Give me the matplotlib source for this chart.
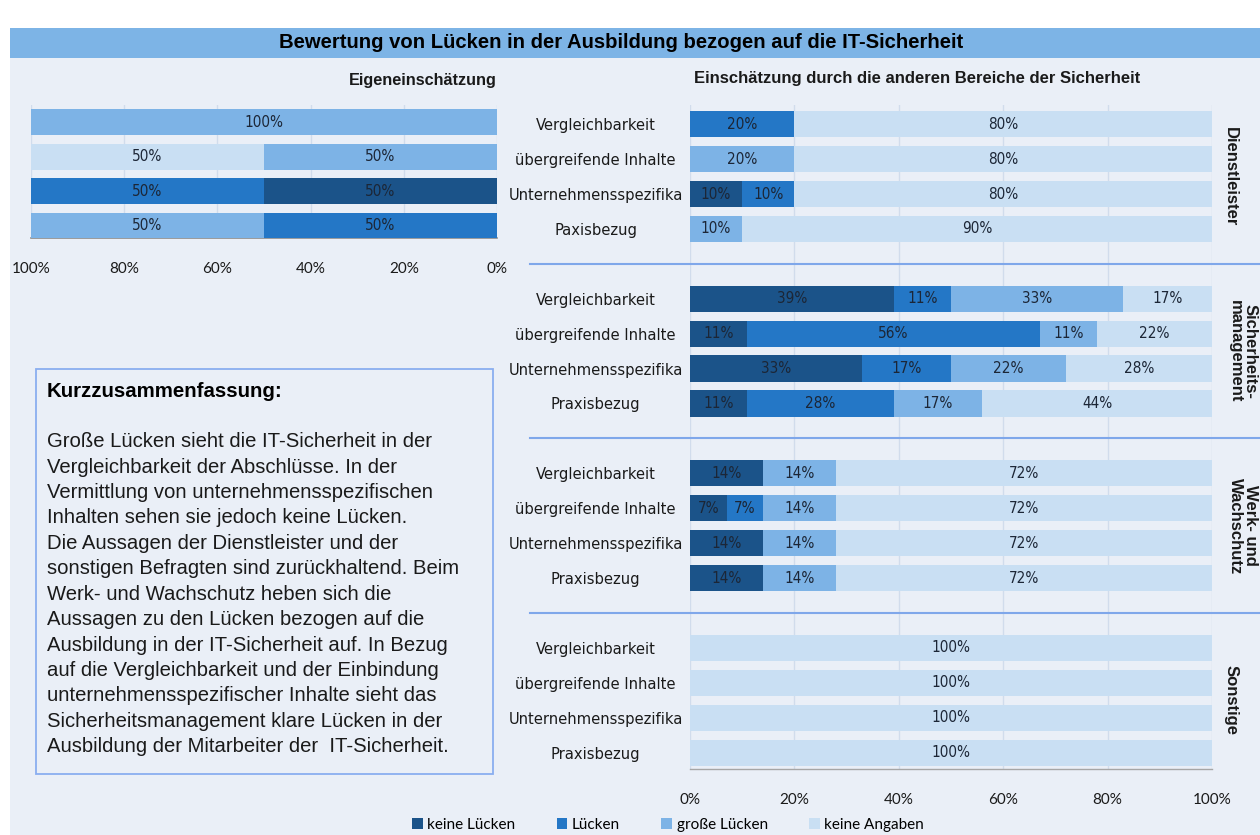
import matplotlib
matplotlib.use('Agg')
import matplotlib.pyplot as plt
import matplotlib.transforms as mtransforms
from matplotlib.patches import Rectangle, Patch
from matplotlib import font_manager

# ---------------- data ----------------
series = ['keine Lücken', 'Lücken', 'große Lücken', 'keine Angaben']
colors = ['#1b5389', '#2477c6', '#7db3e6', '#c9dff3']

self_categories = ['Vergleichbarkeit', 'übergreifende Inhalte', 'Unternehmensspezifika', 'Praxisbezug']
self_keine_luecken = [0, 0, 50, 0]
self_luecken = [0, 0, 50, 50]
self_grosse_luecken = [100, 50, 0, 50]
self_keine_angaben = [0, 50, 0, 0]

groups = ['Dienstleister', 'Sicherheits-\nmanagement', 'Werk- und\nWachschutz', 'Sonstige']
group_categories = [
    ['Vergleichbarkeit', 'übergreifende Inhalte', 'Unternehmensspezifika', 'Paxisbezug'],
    ['Vergleichbarkeit', 'übergreifende Inhalte', 'Unternehmensspezifika', 'Praxisbezug'],
    ['Vergleichbarkeit', 'übergreifende Inhalte', 'Unternehmensspezifika', 'Praxisbezug'],
    ['Vergleichbarkeit', 'übergreifende Inhalte', 'Unternehmensspezifika', 'Praxisbezug'],
]
keine_luecken = [[0, 0, 10, 0], [39, 11, 33, 11], [14, 7, 14, 14], [0, 0, 0, 0]]
luecken = [[20, 0, 10, 0], [11, 56, 17, 28], [0, 7, 0, 0], [0, 0, 0, 0]]
grosse_luecken = [[0, 20, 0, 10], [33, 11, 22, 17], [14, 14, 14, 14], [0, 0, 0, 0]]
keine_angaben = [[80, 80, 80, 90], [17, 22, 28, 44], [72, 72, 72, 72], [100, 100, 100, 100]]

x_ticks = [0, 20, 40, 60, 80, 100]

title = 'Bewertung von Lücken in der Ausbildung bezogen auf die IT-Sicherheit'
left_title = 'Eigeneinschätzung'
right_title = 'Einschätzung durch die anderen Bereiche der Sicherheit'
summary_head = 'Kurzzusammenfassung:'
summary_lines = [
    'Große Lücken sieht die IT-Sicherheit in der',
    'Vergleichbarkeit der Abschlüsse. In der',
    'Vermittlung von unternehmensspezifischen',
    'Inhalten sehen sie jedoch keine Lücken.',
    'Die Aussagen der Dienstleister und der',
    'sonstigen Befragten sind zurückhaltend. Beim',
    'Werk- und Wachschutz heben sich die',
    'Aussagen zu den Lücken bezogen auf die',
    'Ausbildung in der IT-Sicherheit auf. In Bezug',
    'auf die Vergleichbarkeit und der Einbindung',
    'unternehmensspezifischer Inhalte sieht das',
    'Sicherheitsmanagement klare Lücken in der',
    'Ausbildung der Mitarbeiter der  IT-Sicherheit.',
]

# ---------------- style ----------------
W, H = 1260, 835
BG = '#eaeff7'
GRID = '#d1dcec'
SEP = '#7fa7ea'
ARIAL = ['Liberation Sans', 'DejaVu Sans']
CAL = ['Lato', 'DejaVu Sans']
TXT = '#1a1a1a'
LBL = '#1c2636'

# look for a condensed / narrow face
narrow_file = None
for f in font_manager.fontManager.ttflist:
    nm = (f.name + ' ' + f.fname).lower()
    if ('narrow' in nm or 'condensed' in nm) and f.style == 'normal' and f.weight in (400, 'normal', 'regular'):
        if 'sans' in nm:
            narrow_file = f.fname
            break


def narrow_props(size):
    if narrow_file:
        return font_manager.FontProperties(fname=narrow_file, size=size)
    return font_manager.FontProperties(family=ARIAL, size=size * 0.9)


fig = plt.figure(figsize=(W / 100, H / 100), dpi=100, facecolor='white')


def fx(px):
    return px / W


def fy(py):
    return 1 - py / H


# background and title bar
fig.patches.append(Rectangle((fx(10), 0), 1 - fx(10), fy(58), transform=fig.transFigure,
                             facecolor=BG, edgecolor='none', zorder=-10))
fig.patches.append(Rectangle((fx(10), fy(58)), 1 - fx(10), 30 / H, transform=fig.transFigure,
                             facecolor='#7db4e6', edgecolor='none', zorder=-10))
fig.text(fx(621), fy(43), title, ha='center', va='center', fontsize=14.6, fontweight='bold',
         family=ARIAL, color='black')

# ---------------- left chart ----------------
axL = fig.add_axes([fx(31), fy(238), fx(497) - fx(31), (238 - 105) / H])
axL.set_facecolor('none')
self_series = [self_keine_luecken, self_luecken, self_grosse_luecken, self_keine_angaben]
ypos = list(range(len(self_categories)))
left = [0] * len(self_categories)
for vals, col in zip(self_series, colors):
    bars = axL.barh(ypos, vals, left=left, height=0.75, color=col, zorder=3)
    axL.bar_label(bars, labels=[f'{v}%' if v > 0 else '' for v in vals], label_type='center',
                  fontproperties=narrow_props(11), color=LBL)
    left = [a + b for a, b in zip(left, vals)]
axL.set_xlim(100, 0)
axL.set_ylim(3.35, -0.5)
axL.set_xticks(x_ticks)
axL.set_xticklabels([f'{t}%' for t in x_ticks], fontsize=11, family=CAL, color=TXT)
axL.set_yticks([])
axL.tick_params(axis='x', length=0, pad=17)
axL.grid(axis='x', color=GRID, lw=1, zorder=0)
for s in ['top', 'left', 'right']:
    axL.spines[s].set_visible(False)
axL.spines['bottom'].set_color('#8c8c8c')
axL.spines['bottom'].set_linewidth(1.2)
fig.text(fx(497), fy(81), left_title, ha='right', va='center', fontsize=11.7, fontweight='bold',
         family=ARIAL, color=TXT)

# ---------------- right chart ----------------
axR = fig.add_axes([fx(690), fy(769), fx(1212) - fx(690), (769 - 105) / H])
axR.set_facecolor('none')
all_series = [keine_luecken, luecken, grosse_luecken, keine_angaben]
ypos_r, ylabels = [], []
for g, cats in enumerate(group_categories):
    for i, c in enumerate(cats):
        ypos_r.append(g * 5 + i)
        ylabels.append(c)
left = [0] * len(ypos_r)
for ser, col in zip(all_series, colors):
    vals = [v for grp in ser for v in grp]
    bars = axR.barh(ypos_r, vals, left=left, height=0.75, color=col, zorder=3)
    axR.bar_label(bars, labels=[f'{v}%' if v > 0 else '' for v in vals], label_type='center',
                  fontproperties=narrow_props(11), color=LBL)
    left = [a + b for a, b in zip(left, vals)]
axR.set_xlim(0, 100)
axR.set_ylim(18.47, -0.55)
axR.set_xticks(x_ticks)
axR.set_xticklabels([f'{t}%' for t in x_ticks], fontsize=11, family=CAL, color=TXT)
axR.set_yticks(ypos_r)
axR.set_yticklabels(ylabels, color=TXT)
for lbl in axR.get_yticklabels():
    lbl.set_fontproperties(narrow_props(11.8))
    lbl.set_horizontalalignment('center')
axR.tick_params(axis='y', length=0, pad=68)
axR.tick_params(axis='x', length=0, pad=17)
axR.grid(axis='x', color=GRID, lw=1, zorder=0)
for s in ['top', 'left', 'right']:
    axR.spines[s].set_visible(False)
axR.spines['bottom'].set_color('#a6a6a6')
axR.spines['bottom'].set_linewidth(1.0)

trans = mtransforms.blended_transform_factory(axR.transAxes, axR.transData)
for g, name in enumerate(groups):
    xg = 1.059 if '\n' in name else 1.036
    axR.text(xg, g * 5 + 1.5, name, transform=trans, rotation=270, ha='center', va='center',
             fontsize=12, fontweight='bold', family=ARIAL, color=TXT, linespacing=1.0)
    if g < len(groups) - 1:
        axR.plot([-0.3065, 1.1], [g * 5 + 4, g * 5 + 4], transform=trans, color=SEP, lw=1.5,
                 clip_on=False)
fig.text(fx(917), fy(79), right_title, ha='center', va='center', fontsize=12, fontweight='bold',
         family=ARIAL, color=TXT)

# ---------------- summary box ----------------
fig.patches.append(Rectangle((fx(36), fy(774)), fx(493) - fx(36), (774 - 369) / H,
                             transform=fig.transFigure, facecolor='none', edgecolor='#8aaef0',
                             lw=1.3))
fig.text(fx(47), fy(391.5), summary_head, ha='left', va='center', fontsize=14.7,
         fontweight='bold', family=ARIAL, color='black')
for k, line in enumerate(summary_lines):
    fig.text(fx(47), fy(441.7 + k * 25.42), line, ha='left', va='center', fontsize=14.6,
             family=ARIAL, color=TXT)

# ---------------- legend ----------------
handles = [Patch(facecolor=c, edgecolor='none', label=s) for c, s in zip(colors, series)]
fig.legend(handles=handles, loc='center', bbox_to_anchor=(fx(668), fy(825)), ncol=4,
           frameon=False, handlelength=0.7, handleheight=0.7, handletextpad=0.3,
           columnspacing=2.7, prop={'family': CAL, 'size': 11})

fig.savefig('out.png', dpi=100, facecolor='white')
